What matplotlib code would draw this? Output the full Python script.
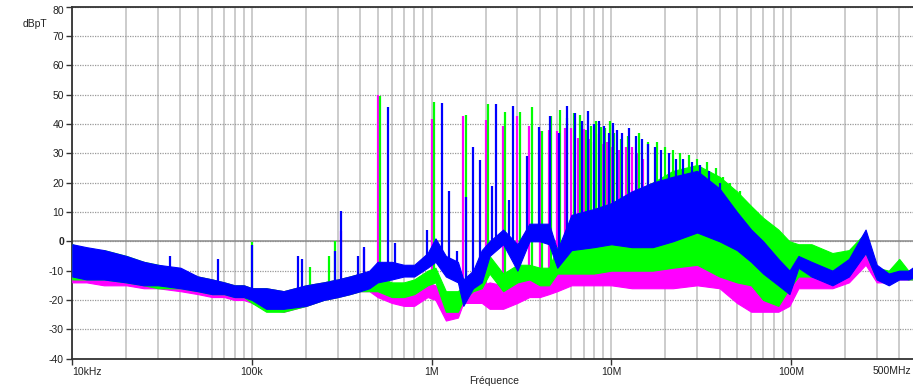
import numpy as np
import matplotlib.pyplot as plt
from matplotlib.ticker import NullFormatter, FixedLocator

plt.rcParams['font.family'] = ['Liberation Sans', 'DejaVu Sans']

# grid of frequencies (MHz) where the noise floor band was read
freq = [0.01, 0.012, 0.015, 0.02, 0.025, 0.03, 0.04, 0.05, 0.06, 0.07, 0.08, 0.09,
        0.1, 0.12, 0.15, 0.2, 0.25, 0.3, 0.35, 0.4, 0.45, 0.5, 0.6, 0.7, 0.8, 0.95,
        1.05, 1.2, 1.4, 1.5, 1.7, 1.9, 2.1, 2.5, 3.0, 3.5, 4.0, 4.5, 5.0, 6.0, 8.0,
        10, 13, 17, 22, 30, 40, 50, 60, 70, 85, 98, 110, 130, 170, 210, 260, 300, 350,
        400, 450, 500]

# noise floor, lower / upper edge (dBpT)
mag_lo = [-14, -14, -15, -15, -16, -16, -17, -18, -19, -19, -20, -20,
          -21, -23, -24, -22, -20, -19, -18, -17, -17, -19, -21, -22, -22, -19,
          -20, -27, -26, -21, -21, -21, -23, -23, -21, -19, -19, -18, -17, -15, -15,
          -15, -16, -16, -16, -15, -16, -21, -24, -24, -24, -22, -16, -16, -16, -14, -8, -14, -14,
          -13, -13, -13]
mag_hi = [-2, -3, -4, -6, -7, -9, -10, -12, -13, -14, -15, -15,
          -16, -16, -17, -15, -14, -13, -12, -11, -11, -14, -15, -17, -17, -14,
          -15, -19, -19, -16, -15, -15, -14, -15, -14, -12, -13, -12, -9, -6, -6,
          -6, -6, -6, -7, -6, -8, -10, -11, -12, -12, -11, -10, -10, -11, -10, -4, -11, -12,
          -11, -11, -10]

grn_lo = [-13, -13, -13, -14, -15, -16, -16, -17, -18, -18, -19, -19,
          -21, -24, -24, -22, -20, -19, -18, -17, -17, -17, -19, -19, -18, -15,
          -14, -24, -24, -20, -17, -16, -11, -17, -14, -13, -15, -15, -11, -11, -11,
          -10, -10, -10, -9, -8, -12, -14, -15, -20, -22, -16, -12, -12, -12, -10, -4, -13, -13,
          -12, -13, -13]
grn_hi = [-1, -3, -3, -5, -7, -8, -10, -12, -13, -14, -15, -15,
          -16, -16, -17, -15, -14, -13, -12, -11, -11, -12, -14, -14, -13, -10,
          -9, -17, -17, -15, -11, -10, -5, -11, -8, -8, -9, -9, -2, -1, -1,
          12, 16, 20, 24, 26, 22, 17, 12, 8, 4, 0, -1, -1, -4, -3, 3, -9, -10,
          -6, -10, -9]

blu_lo = [-12, -13, -13, -14, -15, -15, -16, -17, -18, -18, -19, -19,
          -20, -23, -23, -22, -20, -19, -18, -17, -16, -14, -13, -12, -12, -9,
          -7, -12, -14, -22, -16, -14, -5, -1, -10, 0, 0, -1, -9, -3, -2,
          -1, -2, -2, 0, 3, 0, -3, -7, -11, -15, -18, -9, -12, -15, -12, -4, -13, -15,
          -13, -13, -12]
blu_hi = [-1, -2, -3, -5, -7, -8, -9, -12, -13, -14, -15, -15,
          -16, -16, -17, -15, -14, -13, -12, -11, -10, -7, -7, -8, -8, -4,
          1, -5, -7, -13, -10, -3, 0, 4, -1, 6, 6, 6, -3, 9, 11,
          13, 17, 20, 22, 24, 18, 10, 4, 0, -6, -10, -5, -7, -10, -6, 4, -8, -11,
          -10, -10, -8]

# discrete lines (MHz, dBpT)
mag_spike_f = [0.313, 0.42, 0.5, 1.0, 1.5, 2.0, 2.5, 3.0, 3.5, 4.0, 4.5, 5.0, 5.5,
               6.0, 6.5, 7.0, 7.5, 8.0, 8.5, 9.0, 9.5, 10, 11, 12, 13, 14, 15]
mag_spike_db = [3.6, -2.5, 50, 41.7, 42.8, 41.2, 39.2, 42.8, 39.4, 37.5, 38, 37.5, 38.6,
                38.5, 35.2, 38.4, 35, 34, 36.5, 33, 34, 32, 31, 32, 32, 30, 28]

grn_spike_f = [0.1, 0.21, 0.27, 0.29, 0.515, 1.03, 1.545, 2.06, 2.575, 3.09, 3.6,
               4.12, 4.64, 5.15, 5.67, 6.18, 6.7, 7.21, 7.73, 8.24, 8.76, 9.27, 9.79,
               10.3, 11.3, 12.4, 14.2, 16, 17.9, 20, 22, 24, 27, 30, 34, 38, 42, 46,
               52, 57]
grn_spike_db = [-0.4, -8.7, -5.1, 0.2, 49.4, 47.5, 43.2, 46.9, 44, 43.9, 45.8,
                37.5, 42.8, 44.6, 42, 43.7, 43, 38, 39.4, 40.9, 39, 38.6, 41,
                37, 35, 36, 37, 34, 34, 32, 31, 30, 29.5, 28, 27, 25, 22, 20,
                17, 13]

blu_spike_f = [0.035, 0.065, 0.1, 0.18, 0.19, 0.29, 0.313, 0.39, 0.42, 0.569, 0.625,
               0.938, 1.138, 1.25, 1.39, 1.56, 1.707, 1.87, 2.18, 2.276, 2.7, 2.845,
               3.41, 3.98, 4.55, 5.12, 5.69, 6.26, 6.83, 7.4, 7.97, 8.54, 9.1, 9.67,
               10.24, 10.8, 11.4, 12.5, 13.7, 14.8, 16, 17.6, 19, 21, 23, 25, 28, 31,
               35, 40]
blu_spike_db = [-5, -6, -1.3, -4.9, -6, -3.4, 10.2, -4.9, -2, 45.6, -0.5,
                3.7, 47.1, 17.3, -3.2, 15, 32, 27.8, 18.7, 46.8, 14, 46,
                29, 38.8, 42.6, 37, 46, 43.7, 41, 44.3, 40, 41, 39.2, 37,
                40.3, 38, 37, 38.6, 36, 35, 33, 32, 31, 30, 28, 28, 27, 26,
                24, 20]

fig = plt.figure(figsize=(9.13, 3.88), dpi=100)
ax = fig.add_axes([72.3 / 913, 29.3 / 388, 844.3 / 913, 352.2 / 388])
ax.set_xscale('log')
ax.set_xlim(1e4, 5e8)
ax.set_ylim(-40, 80)

f_hz = np.array(freq) * 1e6
logf = np.log10(freq)


def draw(lo, hi, sf, sdb, color):
    ax.fill_between(f_hz, lo, hi, color=color, lw=0.8, edgecolor=color, zorder=3)
    mid = (np.array(lo) + np.array(hi)) / 2
    base = np.interp(np.log10(sf), logf, mid)
    ax.vlines(np.array(sf) * 1e6, base, sdb, color=color, lw=1.6, zorder=3)


draw(mag_lo, mag_hi, mag_spike_f, mag_spike_db, '#ff00ff')
draw(grn_lo, grn_hi, grn_spike_f, grn_spike_db, '#00ff00')
draw(blu_lo, blu_hi, blu_spike_f, blu_spike_db, '#0000ff')

# grid
ax.set_axisbelow(True)
ax.xaxis.set_major_locator(FixedLocator([1e4, 1e5, 1e6, 1e7, 1e8, 5e8]))
minors = [m * 10 ** d for d in range(4, 9) for m in range(2, 10) if m * 10 ** d < 5e8]
ax.xaxis.set_minor_locator(FixedLocator(minors))
ax.xaxis.set_minor_formatter(NullFormatter())
ax.grid(which='both', axis='x', color='#cccccc', lw=1.4)
ax.set_yticks(range(-40, 81, 10))
ax.grid(which='major', axis='y', color='#999999', lw=0.9, ls=(0, (1, 1)))
ax.axhline(0, color='#8a8a8a', lw=1.1, zorder=1)

ax.set_xticklabels(['10kHz', '100k', '1M', '10M', '100M', ''], fontsize=7.5)
ax.get_xticklabels()[0].set_ha('left')
ax.set_yticklabels([str(v) for v in range(-40, 81, 10)], fontsize=7.5)
for t in ax.get_yticklabels():
    if t.get_text() == '0':
        t.set_fontweight('bold')
    if t.get_text() == '80':
        t.set_va('top')

ax.tick_params(axis='both', which='major', direction='out', length=4, width=1,
               color='#333333', labelcolor='#222222', pad=2)
ax.tick_params(axis='x', which='minor', length=0)
for s in ['left', 'bottom', 'top']:
    ax.spines[s].set_color('#333333')
    ax.spines[s].set_linewidth(1.3)
ax.spines['right'].set_visible(False)

fig.text(911 / 913, 1 - 371 / 388, '500MHz', ha='right', va='center', fontsize=7.5, color='#222222')
fig.text(35 / 913, 1 - 24 / 388, 'dBpT', ha='center', va='center', fontsize=7.5, color='#222222')
fig.text(494 / 913, 1 - 381 / 388, 'Fréquence', ha='center', va='center', fontsize=7.5, color='#222222')

fig.savefig('out.png', dpi=100)
